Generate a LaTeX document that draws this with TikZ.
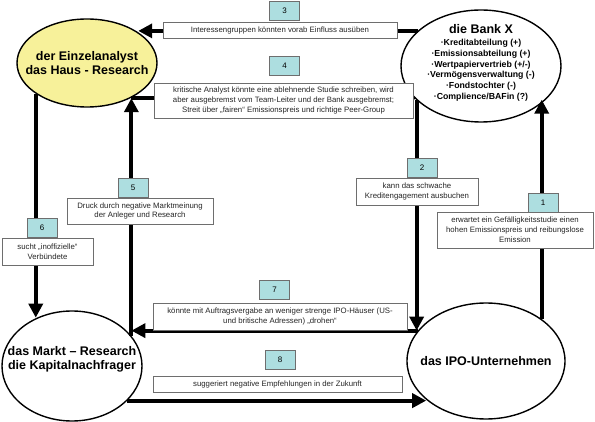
\documentclass[tikz,border=0pt]{standalone}
\usepackage{fontspec}
\setmainfont{Liberation Sans}
\usepackage{tikz}
\usetikzlibrary{shapes.geometric}
\usetikzlibrary{arrows.meta}
\definecolor{analystyellow}{HTML}{F7F19A}
\definecolor{numcyan}{HTML}{ADDEE0}
\definecolor{boxgray}{HTML}{6E6E6E}

\begin{document}
\begin{tikzpicture}[x=1pt,y=-1pt,
	party/.style={ellipse,draw=black,line width=1.4pt,inner sep=0pt},
	partytext/.style={font=\bfseries\fontsize{12.5}{14}\selectfont,align=center},
	txtbox/.style={draw=boxgray,fill=white,line width=0.7pt,inner sep=0pt,align=center,
		font=\fontsize{7.8}{9.8}\selectfont,text=black!85},
	numbox/.style={draw=boxgray,fill=numcyan,line width=0.7pt,inner sep=0pt,
		minimum width=30pt,minimum height=19pt,font=\fontsize{8}{9}\selectfont},
	bigarrow/.style={line width=4pt,-{Triangle[length=14pt,width=14pt]}}]
	
	\useasboundingbox (0,0) rectangle (595,422);
	
	% Draw the four parties
	\node[party,fill=analystyellow,minimum width=140pt,minimum height=88pt,
		label={[partytext]center:{der Einzelanalyst\\das Haus - Research}}] (analyst) at (87,63) {};
	\node[party,minimum width=160pt,minimum height=112pt,
		label={[partytext,font=\bfseries\fontsize{8.75}{10.8}\selectfont,yshift=3pt]center:{{\fontsize{12.5}{14}\selectfont die Bank X}\\[1pt]
			·Kreditabteilung (+)\\·Emissionsabteilung (+)\\·Wertpapiervertrieb (+/-)\\
			·Vermögensverwaltung (-)\\·Fondstochter (-)\\·Complience/BAFin (?)}}] (bank) at (481,66) {};
	\node[party,minimum width=140pt,minimum height=110pt,
		label={[partytext,yshift=7pt]center:{das Markt -- Research\\die Kapitalnachfrager}}] (market) at (72,366) {};
	\node[party,minimum width=158pt,minimum height=116pt,
		label={[partytext]center:{das IPO-Unternehmen}}] (ipo) at (486,361) {};
	
	% Draw the arrows between the parties
	\draw[bigarrow] (bank.151.9) -- (analyst.31.95 |- bank.151.9);
	\draw[bigarrow] (analyst.321.1) -- (bank.208.7 |- analyst.321.1);
	\draw[bigarrow] (bank.208.7) -- (ipo.156.55 -| bank.208.7);
	\draw[bigarrow,shorten >=-4pt] (ipo.37.1) -- (bank.328.34 -| ipo.37.1);
	\draw[bigarrow] (ipo.156.55) -- (market.27.96 |- ipo.156.55);
	\draw[bigarrow] (market.27.96) -- (analyst.321.1 -| market.27.96);
	\draw[bigarrow] (analyst.211.6) -- (market.126.3 -| analyst.211.6);
	\draw[bigarrow] (market.328.3) -- (ipo.213.7 |- market.328.3);
	
	% Draw the labels on the arrows
	\node[txtbox,minimum width=156pt,minimum height=36pt] (box1) at (515,230)
		{erwartet ein Gefälligkeitsstudie einen\\hohen Emissionspreis und reibungslose\\Emission};
	\node[numbox] (num1) at (543,202.5) {1};
	
	\node[txtbox,minimum width=122pt,minimum height=27pt] (box2) at (417,191.5)
		{kann das schwache\\Kreditengagement ausbuchen};
	\node[numbox] (num2) at (422,168) {2};
	
	\node[txtbox,minimum width=234pt,minimum height=16pt] (box3) at (280,30)
		{Interessengruppen könnten vorab Einfluss ausüben};
	\node[numbox] (num3) at (284.5,11) {3};
	
	\node[txtbox,minimum width=259pt,minimum height=35pt] (box4) at (283.5,100.5)
		{kritische Analyst könnte eine ablehnende Studie schreiben, wird\\aber ausgebremst vom Team-Leiter und der Bank ausgebremst;\\Streit über „fairen“ Emissionspreis und richtige Peer-Group};
	\node[numbox] (num4) at (284.5,66) {4};
	
	\node[txtbox,minimum width=146pt,minimum height=26pt] (box5) at (140,211)
		{Druck durch negative Marktmeinung\\der Anleger und Research};
	\node[numbox] (num5) at (133,188) {5};
	
	\node[txtbox,minimum width=91pt,minimum height=27pt] (box6) at (47.5,251.5)
		{sucht „inoffizielle“\\Verbündete};
	\node[numbox] (num6) at (42,228) {6};
	
	\node[txtbox,minimum width=254pt,minimum height=27pt] (box7) at (280,316.5)
		{könnte mit Auftragsvergabe an weniger strenge IPO-Häuser (US-\\und britische Adressen) „drohen“};
	\node[numbox] (num7) at (274.5,289.5) {7};
	
	\node[txtbox,minimum width=249pt,minimum height=16pt] (box8) at (277.5,384)
		{suggeriert negative Empfehlungen in der Zukunft};
	\node[numbox] (num8) at (280,360) {8};
	
\end{tikzpicture}
\end{document}
